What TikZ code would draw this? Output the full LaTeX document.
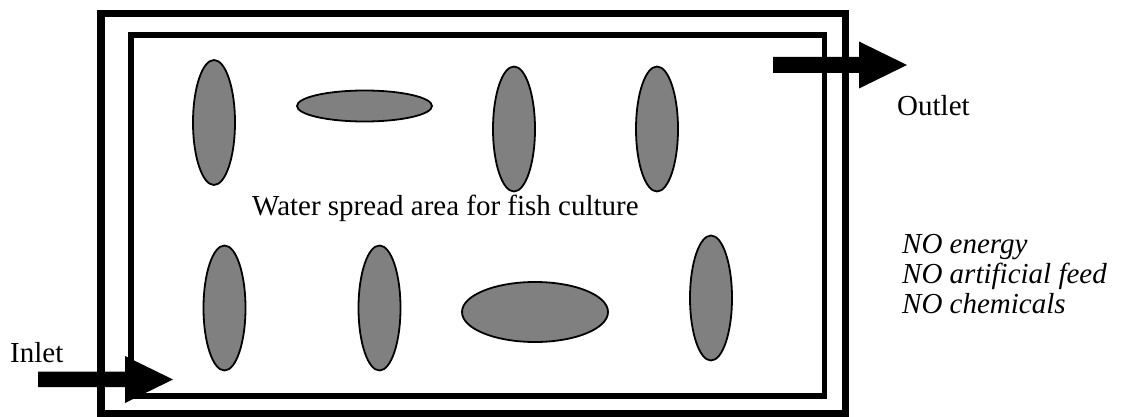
\documentclass[tikz,border=0pt]{standalone}
\usepackage{fontspec}
\setmainfont{Liberation Serif}
\usetikzlibrary{shapes.geometric}
\begin{document}
\begin{tikzpicture}[x=1pt,y=-1pt,
  fish/.style={ellipse, draw=black, fill={rgb,255:red,128;green,128;blue,128}, line width=1.8pt, inner sep=0pt},
  vfish/.style={fish, minimum width=42pt, minimum height=125pt},
  lbl/.style={font=\fontsize{29}{30}\selectfont, inner sep=0pt, anchor=base west},
  pipe/.style={fill=black},
  ]
\useasboundingbox (0,0) rectangle (1123,417);
% pond walls
\draw[line width=7.5pt] (101,13.5) rectangle (845.5,413.5);
\draw[line width=5.5pt] (131,35) rectangle (824.5,396);
% fish
\node[vfish] (e1) at (214,122.5) {};
\node[fish, minimum width=135pt, minimum height=31pt] (e2) at (364.5,106) {};
\node[vfish] (e3) at (514,129) {};
\node[vfish] (e4) at (657,129) {};
\node[vfish] (e5) at (224.5,308) {};
\node[vfish] (e6) at (379.5,308) {};
\node[fish, minimum width=146pt, minimum height=60pt] (e7) at (535,312) {};
\node[vfish] (e8) at (711,298) {};
% arrows
\fill[pipe] (773,57) -- (859,57) -- (859,41.5) -- (907,65) -- (859,88.5) -- (859,73) -- (773,73) -- cycle;
\fill[pipe] (38,371.5) -- (125,371.5) -- (125,356) -- (173,379.5) -- (125,403) -- (125,387) -- (38,387) -- cycle;
% labels
\node[lbl] (outlet) at (897,116) {Outlet};
\node[lbl] (inlet) at (10,362) {Inlet};
\node[lbl] (area) at (252,215) {Water spread area for fish culture};
\node[font=\fontsize{29}{30}\selectfont\itshape, inner sep=0pt, anchor=north west, align=left] (no) at (902,234) {NO energy\\NO artificial feed\\NO chemicals};
\end{tikzpicture}
\end{document}
